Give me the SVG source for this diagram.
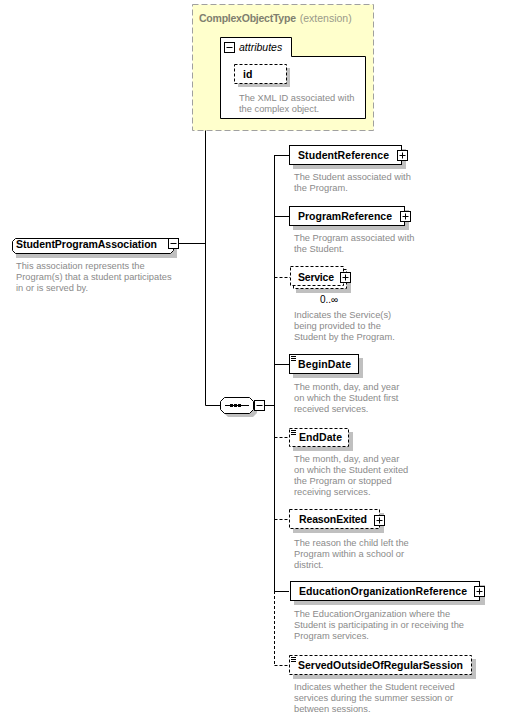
<svg xmlns="http://www.w3.org/2000/svg" width="508" height="718" viewBox="0 0 508 718">
<style>
.name{font-family:"Liberation Sans","DejaVu Sans",sans-serif;font-weight:bold;font-size:10.5px;fill:#000}
.desc{font-family:"Liberation Sans","DejaVu Sans",sans-serif;font-size:9.3px;fill:#8a8a8a}
.box{fill:#fff;stroke:#000;stroke-width:1}
.dbox{fill:#fff;stroke:#000;stroke-width:1;stroke-dasharray:3,2}
.shadow{fill:#c0c0c0}
.ln{stroke:#000;stroke-width:1;fill:none}
.dln{stroke:#000;stroke-width:1;fill:none;stroke-dasharray:3,2}
.pm{fill:#fff;stroke:#000;stroke-width:1}
</style>
<defs>
<g id="plus"><rect class="pm" x="0.5" y="0.5" width="10" height="10"/><path class="ln" d="M2.5,5.5H8.5M5.5,2.5V8.5"/></g>
<g id="minus"><rect class="pm" x="0.5" y="0.5" width="10" height="10"/><path class="ln" d="M2.5,5.5H8.5"/></g>
<g id="simple"><path class="ln" d="M2,2.5H7M2,4.5H7M2,6.5H7"/></g>
</defs>
<rect width="508" height="718" fill="#fff"/>

<g id="connectors">
<path class="ln" d="M179,243.5H205.5M205.5,79.5V405.5M205.5,79.5H220M205.5,405.5H220"/>
<path class="ln" d="M264,405.5H274.5M274.5,155V591"/>
<path class="dln" d="M274.5,591V665.5"/>
<path class="ln" d="M274.5,155.5H289M274.5,216.5H289M274.5,364.5H289M274.5,591.5H289"/>
<path class="dln" d="M274.5,277.5H290M274.5,437.5H289M274.5,519.5H289M274.5,665.5H289"/>
</g>

<g id="ComplexObjectType">
<rect x="192.5" y="4.5" width="181" height="126" fill="#ffffcc" stroke="#a0a0a0" stroke-dasharray="6,3"/>
<text x="199" y="22" font-family="Liberation Sans,DejaVu Sans,sans-serif" font-size="10.5px"><tspan font-weight="bold" fill="#7f7f6f" textLength="97">ComplexObjectType</tspan><tspan fill="#9a9a8a" dx="4">(extension)</tspan></text>
</g>

<g id="attributes">
<path class="box" d="M220.5,37.5H291.5V56.5H365.5V118.5H220.5Z"/>
<use href="#minus" x="224" y="42"/>
<text x="239" y="51" font-family="Liberation Sans,DejaVu Sans,sans-serif" font-style="italic" font-size="10.5px" fill="#000">attributes</text>
</g>

<g id="id">
<rect class="shadow" x="238" y="68" width="52" height="19"/>
<rect class="dbox" x="234.5" y="64.5" width="52" height="19"/>
<text class="name" x="243" y="78">id</text>
<text class="desc" x="239" y="101">The XML ID associated with</text>
<text class="desc" x="239" y="112">the complex object.</text>
</g>

<g id="StudentProgramAssociation">
<path class="shadow" d="M16,242H177V258H16Z"/>
<path class="box" d="M15.5,238.5H170.5L173.5,241.5V250.5L170.5,253.5H15.5L12.5,250.5V241.5Z"/>
<text class="name" x="16" y="248" textLength="141">StudentProgramAssociation</text>
<use href="#minus" x="168" y="238"/>
<text class="desc" x="16" y="268.5">This association represents the</text>
<text class="desc" x="16" y="279.5">Program(s) that a student participates</text>
<text class="desc" x="16" y="290.5">in or is served by.</text>
</g>

<g id="sequence">
<path class="shadow" d="M228,401H253L257,405V413L253,417H228L224,413V405Z"/>
<path class="box" d="M224.5,397.5H249.5L253.5,401.5V409.5L249.5,413.5H224.5L220.5,409.5V401.5Z"/>
<path class="ln" d="M225,405.5H249"/>
<rect x="230" y="404" width="3" height="3" fill="#000"/>
<rect x="234" y="404" width="3" height="3" fill="#000"/>
<rect x="238" y="404" width="3" height="3" fill="#000"/>
<use href="#minus" x="254" y="400"/>
</g>

<g id="StudentReference">
<rect class="shadow" x="293" y="149" width="113" height="20"/>
<rect class="box" x="289.5" y="145.5" width="112" height="19"/>
<text class="name" x="298" y="159" textLength="91">StudentReference</text>
<use href="#plus" x="397" y="150"/>
<text class="desc" x="294" y="180">The Student associated with</text>
<text class="desc" x="294" y="191">the Program.</text>
</g>

<g id="ProgramReference">
<rect class="shadow" x="293" y="210" width="116" height="20"/>
<rect class="box" x="289.5" y="206.5" width="115" height="19"/>
<text class="name" x="298" y="220" textLength="94">ProgramReference</text>
<use href="#plus" x="400" y="211"/>
<text class="desc" x="294" y="241">The Program associated with</text>
<text class="desc" x="294" y="252">the Student.</text>
</g>

<g id="Service">
<rect class="shadow" x="296" y="272" width="55" height="21"/>
<rect class="dbox" x="293.5" y="269.5" width="53" height="19"/>
<rect class="dbox" x="290.5" y="266.5" width="53" height="19"/>
<text class="name" x="298" y="281" textLength="36">Service</text>
<use href="#plus" x="340" y="272"/>
<text x="320" y="303" font-family="Liberation Sans,DejaVu Sans,sans-serif" font-size="10px" fill="#000">0..∞</text>
<text class="desc" x="294" y="318">Indicates the Service(s)</text>
<text class="desc" x="294" y="329">being provided to the</text>
<text class="desc" x="294" y="340">Student by the Program.</text>
</g>

<g id="BeginDate">
<rect class="shadow" x="293" y="358" width="70" height="20"/>
<rect class="box" x="289.5" y="354.5" width="69" height="19"/>
<use href="#simple" x="289" y="354"/>
<text class="name" x="298" y="368" textLength="53">BeginDate</text>
<text class="desc" x="294" y="390">The month, day, and year</text>
<text class="desc" x="294" y="401">on which the Student first</text>
<text class="desc" x="294" y="412">received services.</text>
</g>

<g id="EndDate">
<rect class="shadow" x="293" y="432" width="60" height="19"/>
<rect class="dbox" x="289.5" y="428.5" width="59" height="18"/>
<use href="#simple" x="289" y="428"/>
<text class="name" x="299" y="441" textLength="43">EndDate</text>
<text class="desc" x="294" y="462">The month, day, and year</text>
<text class="desc" x="294" y="473">on which the Student exited</text>
<text class="desc" x="294" y="484">the Program or stopped</text>
<text class="desc" x="294" y="495">receiving services.</text>
</g>

<g id="ReasonExited">
<rect class="shadow" x="293" y="513" width="91" height="20"/>
<rect class="dbox" x="289.5" y="509.5" width="90" height="19"/>
<text class="name" x="299" y="523" textLength="68">ReasonExited</text>
<use href="#plus" x="374" y="515"/>
<text class="desc" x="294" y="546">The reason the child left the</text>
<text class="desc" x="294" y="557">Program within a school or</text>
<text class="desc" x="294" y="568">district.</text>
</g>

<g id="EducationOrganizationReference">
<rect class="shadow" x="294" y="585" width="191" height="20"/>
<rect class="box" x="290.5" y="581.5" width="189" height="19"/>
<text class="name" x="299" y="595" textLength="168">EducationOrganizationReference</text>
<use href="#plus" x="474" y="586"/>
<text class="desc" x="294" y="617">The EducationOrganization where the</text>
<text class="desc" x="294" y="628">Student is participating in or receiving the</text>
<text class="desc" x="294" y="639">Program services.</text>
</g>

<g id="ServedOutsideOfRegularSession">
<rect class="shadow" x="293" y="659" width="183" height="20"/>
<rect class="dbox" x="289.5" y="655.5" width="182" height="19"/>
<use href="#simple" x="289" y="655"/>
<text class="name" x="298" y="669" textLength="165">ServedOutsideOfRegularSession</text>
<text class="desc" x="294" y="690">Indicates whether the Student received</text>
<text class="desc" x="294" y="701">services during the summer session or</text>
<text class="desc" x="294" y="712">between sessions.</text>
</g>
</svg>
